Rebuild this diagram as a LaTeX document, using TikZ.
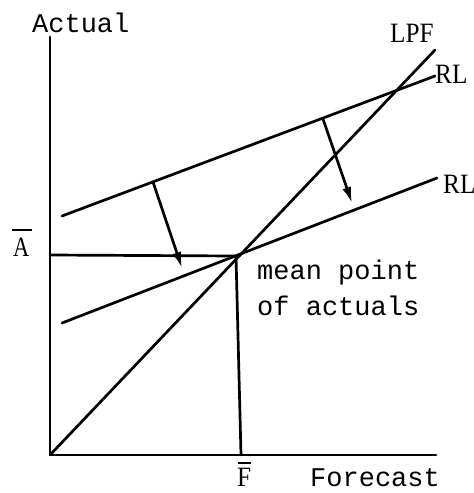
\documentclass[tikz,border=0pt]{standalone}
\usepackage{fontspec}
\usepackage{graphicx}
\setmainfont{Liberation Serif}
\newfontfamily\twfont{Liberation Mono}
\usetikzlibrary{arrows.meta}
\tikzset{
  ln/.style={line width=2.7pt, line cap=round},
  arr/.style={ln, -{Latex[length=16pt,width=9pt]}},
  tw/.style={font=\twfont\fontsize{27}{36}\selectfont, inner sep=0pt, anchor=base west},
  sf/.style={font=\fontsize{28}{30}\selectfont, inner sep=0pt, anchor=base west}
}
\begin{document}
\begin{tikzpicture}[x=1pt,y=-1pt]
\useasboundingbox (0,0) rectangle (474,493);
% key points
\coordinate (O) at (50,455);
\coordinate (ytop) at (50,37);
\coordinate (xend) at (436,455);
\coordinate (M) at (236,256);
\coordinate (Abar) at (50,255);
\coordinate (Fbar) at (241,455);
\coordinate (lpfend) at (435,50);
\coordinate (rl1a) at (62,216);
\coordinate (rl1b) at (435,76);
\coordinate (rl2a) at (62,323);
\coordinate (rl2b) at (437,178);
\coordinate (a1s) at (153,182);
\coordinate (a1e) at (182,268);
\coordinate (a2s) at (323,119);
\coordinate (a2e) at (352,203);
% axes
\draw[ln] (ytop) -- (O) -- (xend);
% mean lines
\draw[ln] (Abar) -- (M) -- (Fbar);
% LPF
\draw[ln] (O) -- (lpfend);
% regression lines
\draw[ln] (rl1a) -- (rl1b);
\draw[ln] (rl2a) -- (rl2b);
% arrows
\draw[arr] (a1s) -- (a1e);
\draw[arr] (a2s) -- (a2e);
% labels
\node[tw] (lblActual) at (32,32) {Actual};
\node[tw] (lblForecast) at (310,486) {Forecast};
\node[tw] (lblMean) at (257,279) {mean point};
\node[tw] (lblMean2) at (257,315) {of actuals};
\node[sf] (lblLPF) at (390,42) {\scalebox{0.9}[1]{LPF}};
\node[sf] (lblRL1) at (435,83) {\scalebox{0.9}[1]{RL}};
\node[sf] (lblRL2) at (443,193) {\scalebox{0.9}[1]{RL}};
\node[sf] (lblA) at (13,256) {\scalebox{0.8}[1]{A}};
\node[sf] (lblF) at (237,486) {\scalebox{0.9}[1]{F}};
\draw[line width=1.6pt] (12,230) -- (32,230);
\draw[line width=1.6pt] (238,463) -- (251,463);
\end{tikzpicture}
\end{document}
